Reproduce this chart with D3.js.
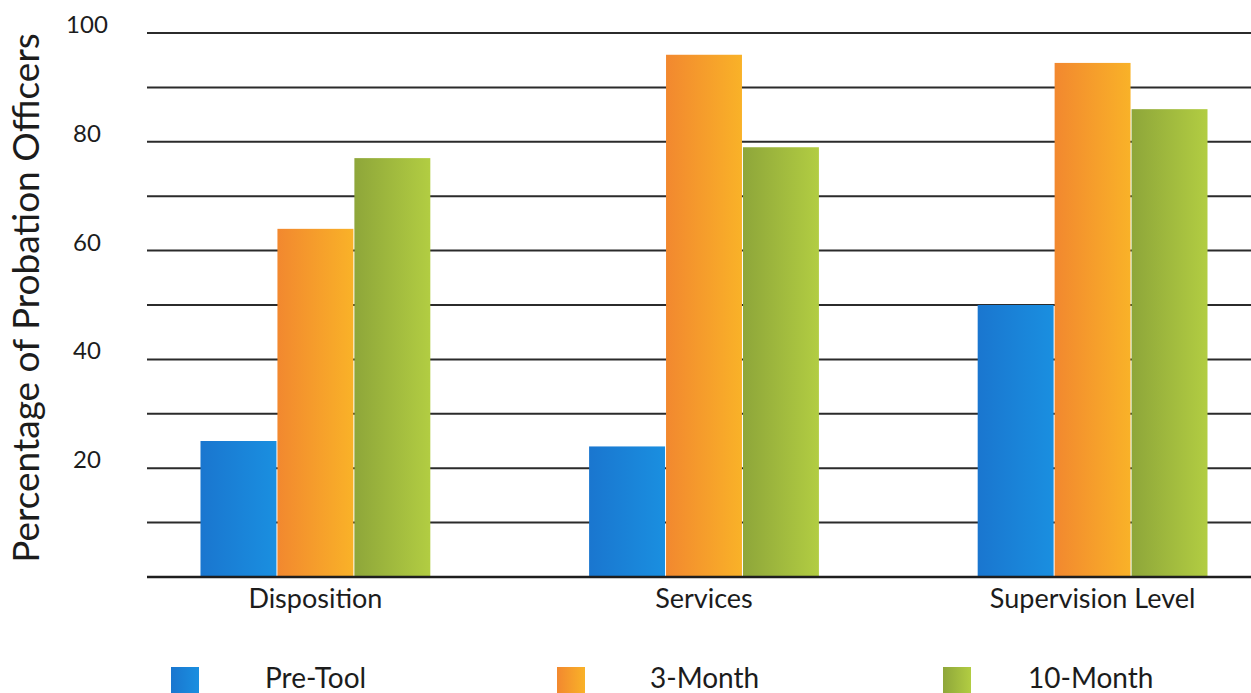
<!DOCTYPE html>
<html>
<head>
<meta charset="utf-8">
<script src="https://cdn.jsdelivr.net/npm/d3@7"></script>
<style>
  html, body { margin: 0; padding: 0; background: #fff; }
  svg { display: block; font-family: Lato, "Open Sans", sans-serif; }
</style>
</head>
<body>
<script>
const categories = ["Disposition", "Services", "Supervision Level"];
const seriesNames = ["Pre-Tool", "3-Month", "10-Month"];
const preTool = [25, 24, 50];
const threeMonth = [64, 96, 94.5];
const tenMonth = [77, 79, 86];
const gridTicks = [10, 20, 30, 40, 50, 60, 70, 80, 90, 100];
const labelTicks = [20, 40, 60, 80, 100];

const colors = [
  ["#1a76cf", "#1a8fe0"],
  ["#f2882f", "#f9b228"],
  ["#8ea63a", "#b2cd42"]
];

const width = 1251, height = 693;
const plotLeft = 147, plotRight = 1251;

const svg = d3.select("body").append("svg")
  .attr("width", width)
  .attr("height", height);

const defs = svg.append("defs");
colors.forEach((c, i) => {
  const grad = defs.append("linearGradient")
    .attr("id", `grad${i}`)
    .attr("x1", "0%").attr("x2", "100%").attr("y1", "0%").attr("y2", "0%");
  grad.append("stop").attr("offset", "0%").attr("stop-color", c[0]);
  grad.append("stop").attr("offset", "100%").attr("stop-color", c[1]);
});

const y = d3.scaleLinear().domain([0, 100]).range([577, 33]);
const x0 = d3.scaleBand().domain(categories).range([200, 1208]).paddingInner(0.406).paddingOuter(0);
const x1 = d3.scaleBand().domain(seriesNames).range([0, x0.bandwidth()]).padding(0);

// gridlines
svg.append("g")
  .selectAll("line")
  .data(gridTicks)
  .join("line")
  .attr("x1", plotLeft)
  .attr("x2", plotRight)
  .attr("y1", (d) => y(d))
  .attr("y2", (d) => y(d))
  .attr("stroke", "#2b2b2b")
  .attr("stroke-width", 2);

// y labels
svg.append("g")
  .selectAll("text")
  .data(labelTicks)
  .join("text")
  .attr("x", 87)
  .attr("y", (d) => y(d) - 6)
  .attr("text-anchor", "middle")
  .attr("dominant-baseline", "middle")
  .attr("font-size", 24)
  .attr("fill", "#1c1c1c")
  .text((d) => d);

// bars
const rows = categories.map((cat, i) => ({
  cat,
  values: [preTool[i], threeMonth[i], tenMonth[i]]
}));

svg.append("g")
  .selectAll("g")
  .data(rows)
  .join("g")
  .attr("transform", (d) => `translate(${x0(d.cat)},0)`)
  .selectAll("rect")
  .data((d) => d.values.map((v, j) => ({name: seriesNames[j], value: v, j})))
  .join("rect")
  .attr("x", (d) => x1(d.name) + 0.5)
  .attr("width", x1.bandwidth() - 1)
  .attr("y", (d) => y(d.value))
  .attr("height", (d) => y(0) - y(d.value))
  .attr("fill", (d) => `url(#grad${d.j})`);

// baseline
svg.append("line")
  .attr("x1", plotLeft).attr("x2", plotRight)
  .attr("y1", y(0)).attr("y2", y(0))
  .attr("stroke", "#1e1e1e")
  .attr("stroke-width", 2.5);

// category labels
svg.append("g")
  .selectAll("text")
  .data(categories)
  .join("text")
  .attr("x", (d) => x0(d) + x0.bandwidth() / 2)
  .attr("y", 601)
  .attr("text-anchor", "middle")
  .attr("dominant-baseline", "middle")
  .attr("font-size", 27)
  .attr("fill", "#1c1c1c")
  .text((d) => d);

// y title
svg.append("text")
  .attr("transform", "translate(30,298) rotate(-90)")
  .attr("text-anchor", "middle")
  .attr("dominant-baseline", "middle")
  .attr("font-size", 37)
  .attr("fill", "#1c1c1c")
  .text("Percentage of Probation Officers");

// legend
const legendX = [171, 557, 943];
const legendTextX = [265, 650, 1028];
const legend = svg.append("g")
  .selectAll("g")
  .data(seriesNames)
  .join("g");

legend.append("rect")
  .attr("x", (d, i) => legendX[i])
  .attr("y", 667)
  .attr("width", 28)
  .attr("height", 30)
  .attr("fill", (d, i) => `url(#grad${i})`);

legend.append("text")
  .attr("x", (d, i) => legendTextX[i])
  .attr("y", 681)
  .attr("dominant-baseline", "middle")
  .attr("font-size", 28)
  .attr("fill", "#1c1c1c")
  .text((d) => d);
</script>
</body>
</html>
